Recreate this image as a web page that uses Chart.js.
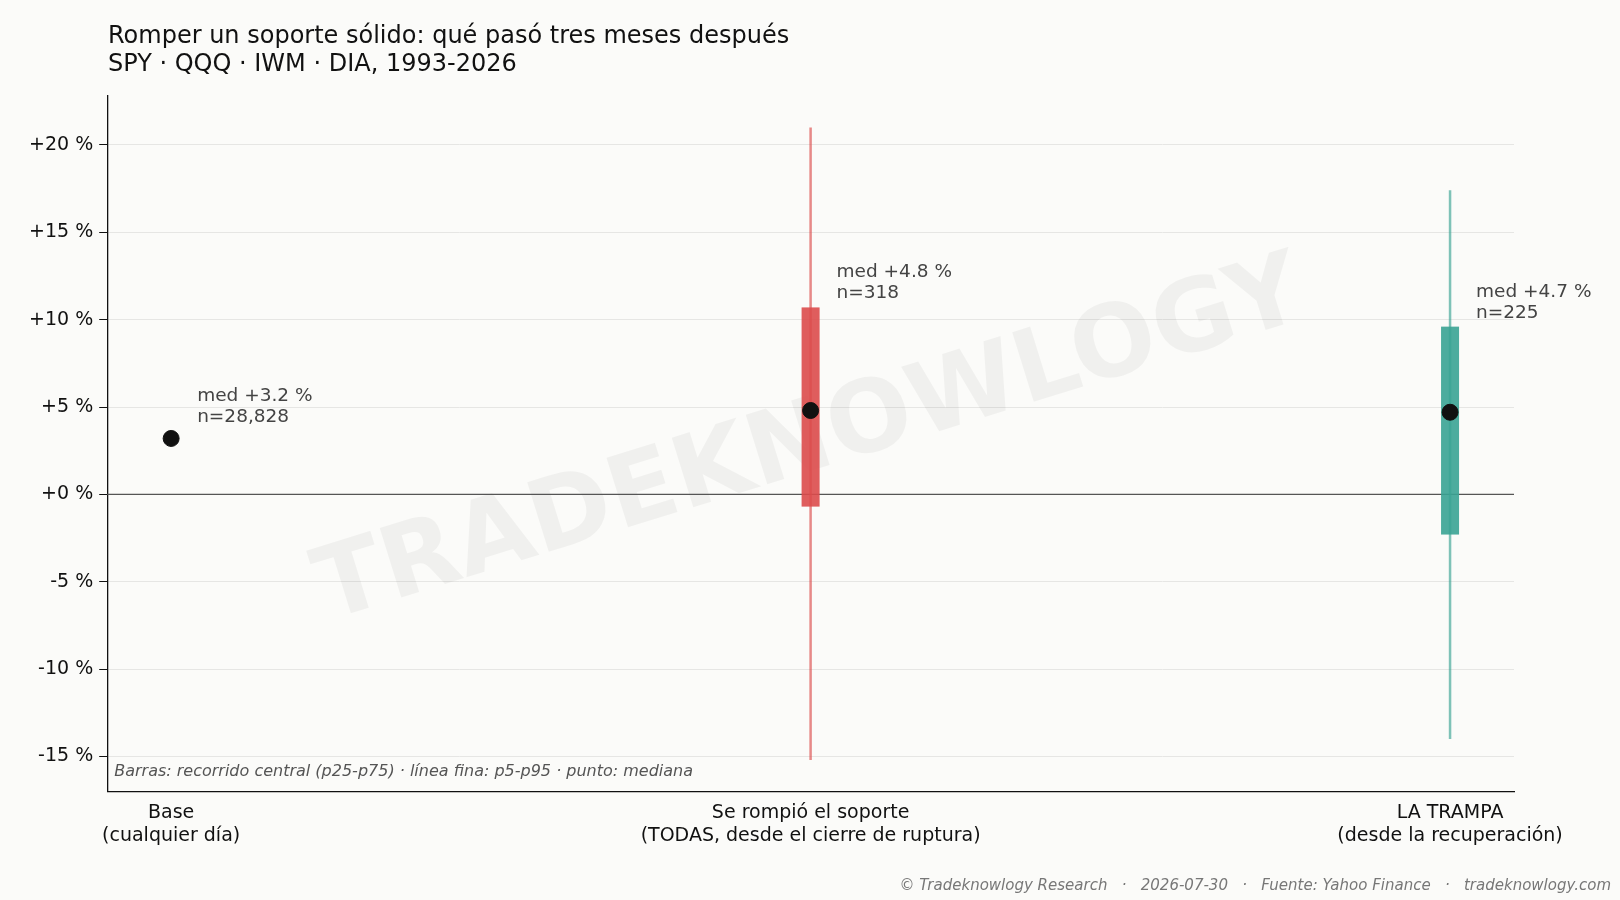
<!DOCTYPE html><html><head><meta charset="utf-8">
<script src="https://cdn.jsdelivr.net/npm/chart.js@4"></script>
<style>html,body{margin:0;background:#fbfbf9}canvas{display:block}</style></head><body>
<canvas id="c" width="1620" height="900"></canvas>
<script>
const categories=[["Base","(cualquier día)"],["Se rompió el soporte","(TODAS, desde el cierre de ruptura)"],["LA TRAMPA","(desde la recuperación)"]];
const medians=[3.2,4.8,4.7];
const p25=[null,-0.7,-2.3];
const p75=[null,10.7,9.6];
const p5=[null,-15.2,-14.0];
const p95=[null,21.0,17.4];
const counts=["28,828","318","225"];
const colors=[null,"#dc4b4b","#3aa393"];
const F="DejaVu Sans";
const draw={id:'d',
beforeDatasetsDraw(ch){const c=ch.ctx,x=ch.scales.x,y=ch.scales.y,a=ch.chartArea;
 c.save();
 c.translate((a.left+a.right)/2,(a.top+a.bottom)/2);c.rotate(-0.3);c.fillStyle="rgba(0,0,0,0.045)";c.font="bold 100px "+F;c.textAlign="center";c.textBaseline="middle";c.fillText("TRADEKNOWLOGY",0,0);c.setTransform(1,0,0,1,0,0);
 c.restore();c.save();
 const y0=y.getPixelForValue(0);c.strokeStyle="#555";c.lineWidth=1.2;c.beginPath();c.moveTo(a.left,y0);c.lineTo(a.right,y0);c.stroke();
 for(let i=0;i<3;i++){if(p25[i]==null)continue;const px=x.getPixelForValue(i);
  c.globalAlpha=0.65;c.strokeStyle=colors[i];c.lineWidth=2.5;c.beginPath();c.moveTo(px,y.getPixelForValue(p5[i]));c.lineTo(px,y.getPixelForValue(p95[i]));c.stroke();
  c.globalAlpha=0.9;c.fillStyle=colors[i];const t=y.getPixelForValue(p75[i]),b=y.getPixelForValue(p25[i]);c.fillRect(px-9,t,18,b-t);}
 c.restore();},
afterDatasetsDraw(ch){const c=ch.ctx,x=ch.scales.x,y=ch.scales.y,a=ch.chartArea;c.save();
 c.fillStyle="#444";c.font="18.5px "+F;c.textBaseline="alphabetic";
 for(let i=0;i<3;i++){const top=p75[i]==null?medians[i]:p75[i];const px=x.getPixelForValue(i)+26,py=y.getPixelForValue(top)-(p75[i]==null?37:30);
  c.fillText("med +"+medians[i].toFixed(1)+" %",px,py);c.fillText("n="+counts[i],px,py+21);}
 c.font="italic 16px "+F;c.fillStyle="#555";c.fillText("Barras: recorrido central (p25-p75) · línea fina: p5-p95 · punto: mediana",a.left+7,a.bottom-15);
 c.font="24px "+F;c.fillStyle="#111";c.fillText("Romper un soporte sólido: qué pasó tres meses después",108,43);c.fillText("SPY · QQQ · IWM · DIA, 1993-2026",108,71);
 c.font="italic 15px "+F;c.fillStyle="#777";c.textAlign="right";c.fillText("© Tradeknowlogy Research   ·   2026-07-30   ·   Fuente: Yahoo Finance   ·   tradeknowlogy.com",1611,890);
 c.restore();}};
new Chart(document.getElementById('c'),{type:'scatter',
data:{datasets:[{data:medians.map((v,i)=>({x:i,y:v})),backgroundColor:"#111",borderColor:"#111",pointRadius:8}]},
options:{responsive:false,animation:false,layout:{padding:{top:96,left:23,right:106,bottom:51}},
plugins:{legend:{display:false},tooltip:{enabled:false}},
scales:{x:{type:'linear',min:-0.1,max:2.1,afterBuildTicks(s){s.ticks=[0,1,2].map(v=>({value:v}));},
 grid:{display:false,drawTicks:true,tickLength:8,tickColor:"#111"},border:{color:"#111",width:1.3},
 ticks:{color:"#111",font:{family:F,size:19},padding:2,callback:v=>categories[v]}},
 y:{min:-17,max:22.8,afterBuildTicks(s){s.ticks=[-15,-10,-5,0,5,10,15,20].map(v=>({value:v}));},
 grid:{color:"#e6e6e4",drawTicks:true,tickLength:8,tickColor:"#111"},border:{color:"#111",width:1.3},
 ticks:{color:"#111",font:{family:F,size:19},padding:6,callback:v=>(v>=0?"+":"")+v+" %"}}}},
plugins:[draw]});
</script></body></html>
